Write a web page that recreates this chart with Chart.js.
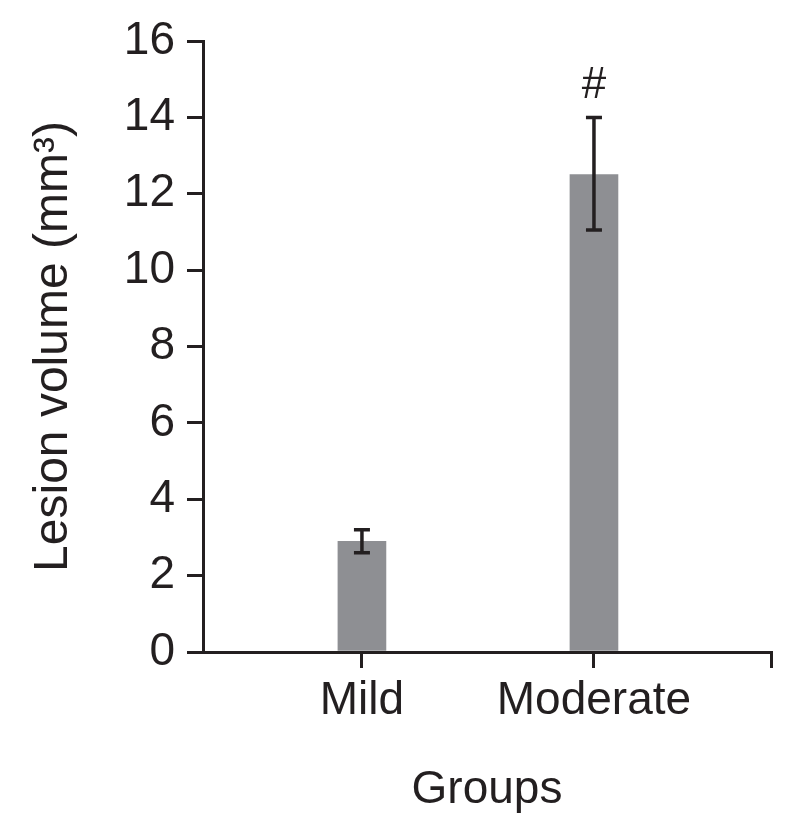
<!DOCTYPE html>
<html>
<head>
<meta charset="utf-8">
<script src="https://cdn.jsdelivr.net/npm/chart.js@4/dist/chart.umd.min.js"></script>
<style>
html,body{margin:0;padding:0;background:#fff;}
#wrap{width:797px;height:837px;}
</style>
</head>
<body>
<div id="wrap"><canvas id="c" width="797" height="837"></canvas></div>
<script>
const categories = ['Mild', 'Moderate'];
const meanValues = [2.9, 12.5];
const errLow = [2.6, 11.05];
const errHigh = [3.2, 14.0];
const markers = ['', '#'];
const yTicks = [0, 2, 4, 6, 8, 10, 12, 14, 16];

const INK = '#231f20';
const FONT = "'Liberation Sans', Arial, Helvetica, sans-serif";

const errorBars = {
  id: 'errorBars',
  afterDatasetsDraw(chart) {
    const ctx = chart.ctx;
    const xs = chart.scales.x, ys = chart.scales.y;
    ctx.save();
    ctx.strokeStyle = INK;
    ctx.lineWidth = 3.5;
    categories.forEach((c, i) => {
      const x = xs.getPixelForValue(i);
      const yl = ys.getPixelForValue(errLow[i]);
      const yh = ys.getPixelForValue(errHigh[i]);
      ctx.beginPath();
      ctx.moveTo(x, yl); ctx.lineTo(x, yh);
      ctx.moveTo(x - 8, yl); ctx.lineTo(x + 8, yl);
      ctx.moveTo(x - 8, yh); ctx.lineTo(x + 8, yh);
      ctx.stroke();
      if (markers[i]) {
        ctx.fillStyle = INK;
        ctx.font = '44px ' + FONT;
        ctx.textAlign = 'center';
        ctx.textBaseline = 'bottom';
        ctx.fillText(markers[i], x, yh - 10);
      }
    });
    ctx.restore();
  }
};

new Chart(document.getElementById('c'), {
  type: 'bar',
  data: {
    datasets: [{
      data: categories.map((c, i) => ({x: i, y: meanValues[i]})),
      backgroundColor: '#8e8f93',
      borderWidth: 0,
      barThickness: 48
    }]
  },
  options: {
    responsive: false,
    animation: false,
    layout: {padding: {top: 41, right: 26, left: 0, bottom: 0}},
    plugins: {legend: {display: false}, tooltip: {enabled: false}},
    scales: {
      x: {
        type: 'linear',
        offset: false,
        min: -0.685,
        max: 1.763,
        afterBuildTicks(scale) {
          scale.ticks = [{value: 0}, {value: 1}, {value: scale.max}];
        },
        afterFit(scale) { scale.height = 185; },
        grid: {offset: false, drawOnChartArea: false, drawTicks: true, tickLength: 16, color: INK, lineWidth: 3},
        border: {display: true, color: INK, width: 3},
        ticks: {
          color: INK,
          font: {family: FONT, size: 46},
          padding: 6,
          maxRotation: 0,
          autoSkip: false,
          callback(v) { return Number.isInteger(v) && categories[v] !== undefined ? categories[v] : ''; }
        },
        title: {display: true, text: 'Groups', color: INK, font: {family: FONT, size: 46}, padding: {top: 0, bottom: 19}}
      },
      y: {
        min: 0,
        max: 16,
        afterBuildTicks(scale) { scale.ticks = yTicks.map(v => ({value: v})); },
        afterFit(scale) { scale.width = 203; },
        grid: {drawOnChartArea: false, drawTicks: true, tickLength: 16, color: INK, lineWidth: 3},
        border: {display: true, color: INK, width: 3},
        ticks: {color: INK, font: {family: FONT, size: 46}, padding: 12},
        title: {display: true, text: 'Lesion volume (mm³)', color: INK, font: {family: FONT, size: 48}, padding: {top: 25, bottom: 0}}
      }
    }
  },
  plugins: [errorBars]
});
</script>
</body>
</html>
